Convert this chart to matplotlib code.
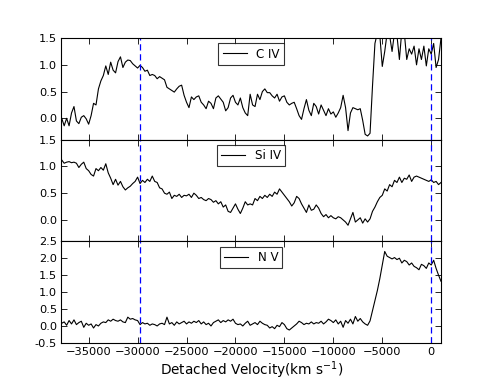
import numpy as np
import matplotlib
matplotlib.use('Agg')
import matplotlib.pyplot as plt

# velocity grid, km/s
vel = np.arange(-38000, 1001, 250)

civ = [0.10, 0.00, -0.14, 0.00, -0.14, 0.10, 0.22, -0.05,
       -0.10, 0.02, 0.05, -0.01, -0.11, 0.05, 0.28, 0.25,
       0.55, 0.70, 0.80, 0.98, 0.82, 1.05, 0.90, 0.85,
       1.06, 1.15, 0.95, 1.05, 1.09, 1.08, 1.02, 0.98,
       0.94, 0.99, 0.95, 0.88, 0.90, 0.80, 0.82, 0.80,
       0.74, 0.78, 0.75, 0.72, 0.58, 0.55, 0.52, 0.49,
       0.55, 0.60, 0.62, 0.43,
       0.30, 0.20, 0.40, 0.35, 0.40, 0.42, 0.30, 0.25,
       0.18, 0.32, 0.28, 0.18, 0.38, 0.42, 0.36, 0.30,
       0.14, 0.20, 0.38, 0.43, 0.30, 0.25, 0.38, 0.20,
       0.10, 0.05, 0.45, 0.25, 0.22, 0.45, 0.35, 0.50,
       0.55, 0.48, 0.48, 0.42, 0.38, 0.45, 0.32, 0.40,
       0.42, 0.30, 0.25, 0.28, 0.30, 0.18, 0.05, -0.02,
       0.18, 0.35, 0.15, 0.05, 0.28,
       0.22, 0.08, 0.25, 0.15, 0.05, 0.18, 0.08, 0.12,
       0.02, 0.10, 0.20, 0.43, 0.20, -0.23, 0.10, 0.20,
       0.18, 0.16, 0.18, -0.04, -0.30, -0.33, -0.28, 0.60,
       1.40, 1.60, 1.55, 0.97, 1.25, 1.60, 1.55, 1.25,
       1.60, 1.55, 1.10, 1.65, 1.60, 1.10, 1.30, 1.20,
       1.35, 1.00, 1.30, 1.10, 1.35, 0.98, 1.30, 1.20,
       1.40, 0.95, 1.10, 1.50]

siiv = [1.18, 1.12, 1.06, 1.08, 1.09, 1.07, 1.08, 1.06,
        0.98, 1.04, 1.08, 0.96, 0.92, 0.85, 0.82, 0.96,
        0.92, 0.98, 0.93, 1.05, 0.88, 0.78, 0.66, 0.76,
        0.65, 0.72, 0.62, 0.56, 0.60, 0.63, 0.68, 0.72,
        0.80, 0.68, 0.74, 0.70, 0.76, 0.72, 0.82, 0.72,
        0.70, 0.60, 0.58, 0.50, 0.48, 0.52, 0.40, 0.46,
        0.44, 0.48, 0.42, 0.46, 0.45, 0.48, 0.42, 0.50,
        0.46, 0.40, 0.42, 0.38, 0.36, 0.40, 0.38, 0.33,
        0.36, 0.30, 0.34, 0.24, 0.28, 0.16, 0.14, 0.22,
        0.30, 0.20, 0.12, 0.22, 0.34, 0.28, 0.30, 0.28,
        0.40, 0.36, 0.44, 0.40, 0.46, 0.42, 0.48, 0.44,
        0.52, 0.48, 0.58, 0.52, 0.46, 0.40, 0.34, 0.26,
        0.32, 0.44, 0.40, 0.30, 0.22, 0.14, 0.28, 0.18,
        0.20, 0.28, 0.22, 0.12, 0.06, 0.10, 0.04, 0.08,
        0.04, 0.02, 0.06, 0.04, 0.00, -0.04, -0.10, 0.02,
        0.14, -0.04, 0.00, 0.04, -0.06, 0.02, -0.04, 0.02,
        0.16, 0.24, 0.34, 0.42, 0.46, 0.58, 0.54, 0.66,
        0.62, 0.74, 0.70, 0.80, 0.70, 0.78, 0.76, 0.84,
        0.72, 0.80, 0.82, 0.80, 0.78, 0.76, 0.74, 0.72,
        0.75, 0.70, 0.72, 0.66, 0.70]

nv = [0.14, 0.08, 0.12, 0.02, 0.16, 0.06, 0.18, 0.04,
      0.10, 0.14, -0.04, 0.08, 0.02, 0.06, -0.06, 0.04,
      0.00, 0.08, 0.12, 0.10, 0.18, 0.14, 0.20, 0.16,
      0.14, 0.18, 0.12, 0.10, 0.26, 0.20, 0.22, 0.18,
      0.16, 0.04, 0.10, 0.06, 0.08, 0.02, 0.06, 0.04,
      0.00, 0.06, 0.08, 0.04, 0.26, 0.06, 0.10, 0.02,
      0.12, 0.06, 0.10, 0.14, 0.06, 0.12, 0.08, 0.14,
      0.10, 0.16, 0.06, 0.12, 0.04, 0.08, 0.00, 0.10,
      0.14, 0.18, 0.10, 0.16, 0.12, 0.18, 0.14, 0.20,
      0.08, 0.04, 0.06, 0.00, 0.08, 0.14, 0.02, 0.06,
      0.10, 0.04, 0.14, 0.08, 0.04, 0.02, -0.06, -0.02,
      -0.08, 0.02, -0.02, 0.10, 0.04, -0.08, -0.12, -0.06,
      0.00, 0.06, 0.14, 0.10, 0.04, 0.08, 0.06, 0.12,
      0.06, 0.10, 0.08, 0.14, 0.06, 0.12, 0.20, 0.16,
      0.10, 0.18, 0.06, 0.14, -0.04, 0.16, 0.08, 0.20,
      0.06, 0.28, 0.14, 0.22, 0.12, 0.06, 0.02, 0.15,
      0.45, 0.75, 1.05, 1.40, 1.80, 2.20, 2.06, 2.02,
      1.98, 2.02, 1.96, 2.00, 1.86, 1.94, 1.90, 1.80,
      1.86, 1.76, 1.72, 1.66, 1.82, 1.78, 1.70, 1.86,
      1.80, 1.94, 1.70, 1.50, 1.32]

ions = ['C IV', 'Si IV', 'N V']
spectra = [civ, siiv, nv]
ylims = [(-0.4, 1.5), (-0.4, 1.5), (-0.5, 2.5)]
yticks = [[0.0, 0.5, 1.0, 1.5], [0.0, 0.5, 1.0, 1.5],
          [-0.5, 0.0, 0.5, 1.0, 1.5, 2.0, 2.5]]
marks = [-29750, 0]

plt.rcParams['font.family'] = 'DejaVu Sans'
plt.rcParams['mathtext.fontset'] = 'dejavusans'
plt.rcParams['xtick.direction'] = 'in'
plt.rcParams['ytick.direction'] = 'in'
plt.rcParams['xtick.top'] = True
plt.rcParams['ytick.right'] = True

fig, axes = plt.subplots(3, 1, sharex=True, figsize=(4.9, 3.81), dpi=100)
fig.subplots_adjust(left=0.125, right=0.9, bottom=0.1, top=0.9, hspace=0)

for ax, ion, spec, yl, yt in zip(axes, ions, spectra, ylims, yticks):
    ax.plot(vel, spec, 'k-', lw=0.8, label=ion)
    for m in marks:
        ax.axvline(m, color='b', ls=(0, (5, 3)), lw=0.9)
    ax.set_ylim(yl)
    ax.set_yticks(yt)
    ax.set_yticklabels(['%.1f' % t for t in yt])
    ax.tick_params(labelsize=8.2, length=4, width=0.6, pad=3)
    for s in ax.spines.values():
        s.set_linewidth(0.8)
    leg = ax.legend(loc='upper center', fontsize=8.6, fancybox=False,
                    handlelength=2.0, borderpad=0.35, borderaxespad=0.45)
    leg.get_frame().set_edgecolor('k')
    leg.get_frame().set_linewidth(0.8)

axes[-1].set_xlim(-37800, 1000)
axes[-1].set_xticks(range(-35000, 1, 5000))
axes[-1].set_xlabel('Detached Velocity(km s$^{-1}$)', fontsize=9.8, labelpad=2)

fig.savefig('out.png', dpi=100, facecolor='white')
